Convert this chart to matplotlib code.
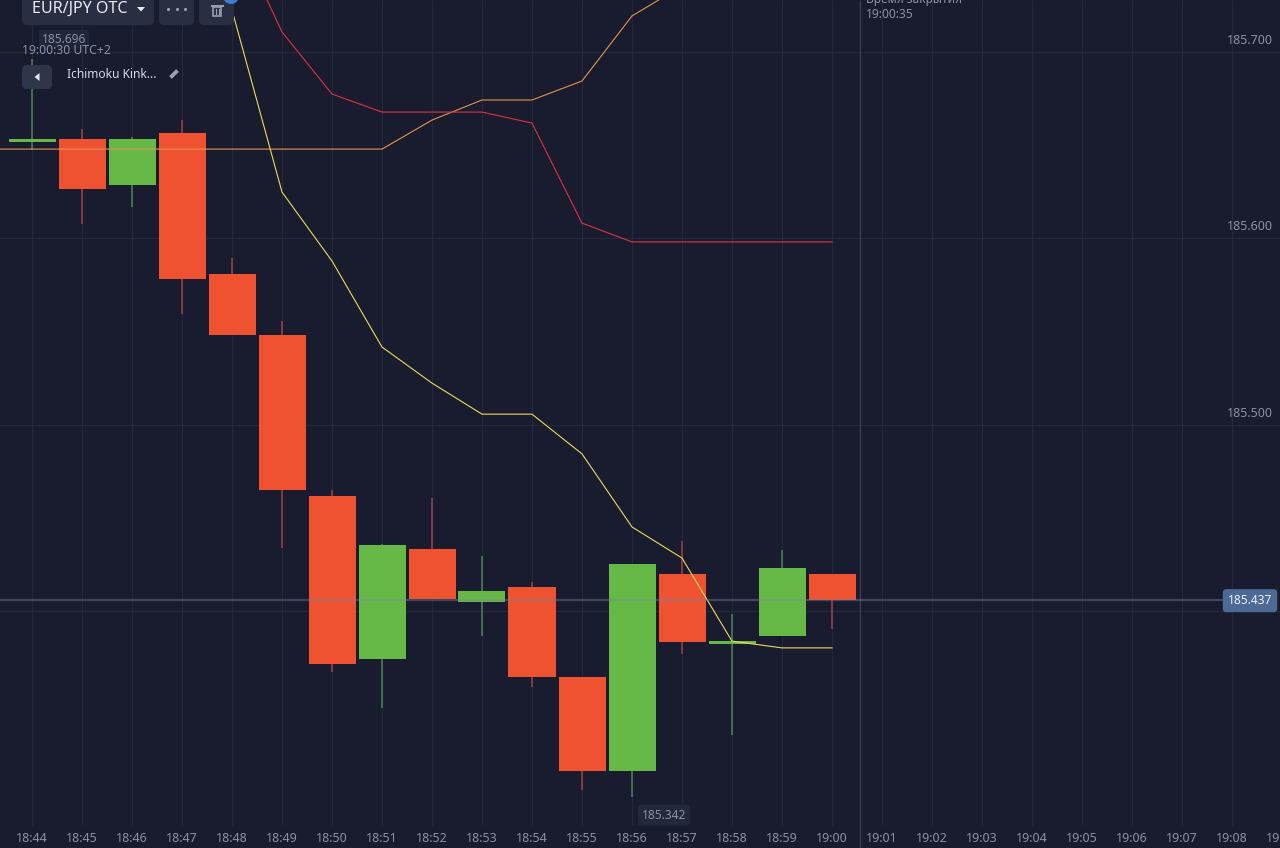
import numpy as np
import matplotlib
matplotlib.use('Agg')
import matplotlib.pyplot as plt
from matplotlib.patches import FancyBboxPatch, Polygon, Rectangle, Circle

plt.rcParams['font.family'] = ['Noto Sans', 'DejaVu Sans']

# minutes, 18:44 is index 0
time_labels = ['18:44', '18:45', '18:46', '18:47', '18:48', '18:49', '18:50', '18:51', '18:52',
               '18:53', '18:54', '18:55', '18:56', '18:57', '18:58', '18:59', '19:00', '19:01',
               '19:02', '19:03', '19:04', '19:05', '19:06', '19:07', '19:08', '19:09']

opens = [185.6516, 185.6532, 185.6284, 185.6564, 185.5807, 185.5481, 185.4744, 185.3850, 185.4554,
         185.4303, 185.4417, 185.3794, 185.3501, 185.4464, 185.3897, 185.3922, 185.4464]
closes = [185.6532, 185.6263, 185.6532, 185.5781, 185.5481, 185.4766, 185.3835, 185.4568, 185.4374,
          185.4402, 185.3794, 185.3501, 185.4500, 185.3903, 185.3906, 185.4485, 185.4370]
highs = [185.6960, 185.6586, 185.6543, 185.6634, 185.5893, 185.5556, 185.4766, 185.4572, 185.4737,
         185.4528, 185.4435, 185.3794, 185.4500, 185.4582, 185.3991, 185.4550, 185.4464]
lows = [185.6473, 185.6075, 185.6166, 185.5593, 185.5481, 185.4557, 185.3810, 185.3697, 185.4374,
        185.3922, 185.3763, 185.3442, 185.3420, 185.3866, 185.3613, 185.3922, 185.3944]

# ichimoku lines, starting minute index then values
yellow_start = 4
yellow_line = [185.7226, 185.6247, 185.5877, 185.5417, 185.5224, 185.5058, 185.5058,
               185.4896, 185.4633, 185.4521, 185.3906, 185.3885, 185.3885]
red_start = 4
red_line = [185.7683, 185.7108, 185.6774, 185.6677, 185.6677, 185.6677, 185.6618, 185.6080,
            185.5979, 185.5979, 185.5979, 185.5979, 185.5979]
orange_start = -1
orange_line = [185.6478, 185.6478, 185.6478, 185.6478, 185.6478, 185.6478, 185.6478, 185.6478,
               185.6478, 185.6634, 185.6742, 185.6742, 185.6844, 185.7194, 185.7355]

grid_prices = [185.7, 185.6, 185.5, 185.4]
price_labels = ['185.700', '185.600', '185.500']
current_price = 185.437
max_price = 185.696
min_price = 185.342
close_time = 16.58  # 19:00:35

# the printed tags and the printed axis do not share one straight scale, so calibrate through both
cal_prices = np.array([185.3261, 185.342, 185.4, 185.437, 185.5, 185.6, 185.7, 185.8356])
cal_pixels = np.array([848, 797, 611, 600, 425, 238, 52, -200])


def forward(v):
    return np.interp(v, cal_prices, -cal_pixels)


def inverse(y):
    return np.interp(y, -cal_pixels, cal_prices)


bg = '#191c2e'
red = '#ee5230'
green = '#67b947'
grey_text = '#8b90a4'

fig = plt.figure(figsize=(12.8, 8.48), dpi=100, facecolor=bg)
ax = fig.add_axes([0, 0, 1, 1], facecolor=bg)
ax.set_yscale('function', functions=(forward, inverse))
ax.set_xlim(-0.64, 24.96)
ax.set_ylim(inverse(-848.0), inverse(0.0))
ax.set_xticks([])
ax.set_yticks([])
ax.minorticks_off()
for s in ax.spines.values():
    s.set_visible(False)

# grid
xs = np.arange(len(time_labels))
ax.vlines(xs, 23 / 848, 1, transform=ax.get_xaxis_transform(), color='#24283b', lw=0.9, zorder=1)
ax.hlines(grid_prices, 0, 1, transform=ax.get_yaxis_transform(), color='#24283b', lw=0.9, zorder=1)
ax.vlines(close_time - 0.02, 0, 1, transform=ax.get_xaxis_transform(), color='#3a3f56', lw=1, zorder=1)

# candles
n = np.arange(len(opens))
op = np.array(opens)
cl = np.array(closes)
up = cl >= op
colors = [green if u else red for u in up]
wick_colors = ['#4f8458' if u else '#a53f48' for u in up]
ax.vlines(n, lows, highs, color=wick_colors, lw=1.1, zorder=2)
ax.bar(n, np.abs(cl - op), bottom=np.minimum(op, cl), width=0.94, color=colors, lw=0, zorder=3)

# ichimoku
ax.plot(np.arange(len(orange_line)) + orange_start, orange_line, color='#e0944c', lw=0.8, zorder=4)
ax.plot(np.arange(len(red_line)) + red_start, red_line, color='#d9343f', lw=0.8, zorder=4)
ax.plot(np.arange(len(yellow_line)) + yellow_start, yellow_line, color='#ecd95a', lw=0.8, zorder=4)

# current price line
ax.plot([-0.64, 23.8], [current_price, current_price], color='#7a809c', alpha=0.42, lw=1.6, zorder=5)

# labels tied to the scales
for label, p in zip(price_labels, grid_prices):
    ax.annotate(label, (1250 / 1280, p), xycoords=ax.get_yaxis_transform(), xytext=(0, 8.2),
                textcoords='offset points', ha='center', va='center', fontsize=9, color=grey_text)
for x, label in zip(xs, time_labels):
    ax.annotate(label, (x, 0), xycoords=ax.get_xaxis_transform(), xytext=(0, 7),
                textcoords='offset points', ha='center', va='center', fontsize=9,
                color=grey_text, annotation_clip=False)

ax.annotate(f'{current_price:.3f}', (1250 / 1280, current_price), xycoords=ax.get_yaxis_transform(),
            xytext=(0, -0.5), textcoords='offset points',
            ha='center', va='center', fontsize=8.6, color='#eef1f6', zorder=8,
            bbox=dict(boxstyle='round,pad=0.42,rounding_size=0.3', fc='#4d6a96', ec='none'))
ax.annotate(f'{min_price:.3f}', (12.64, min_price), xytext=(0, -13), textcoords='offset points',
            ha='center', va='center', fontsize=8.6, color=grey_text, zorder=8,
            bbox=dict(boxstyle='round,pad=0.32,rounding_size=0.3', fc='#24283b', ec='none'))
ax.annotate(f'{max_price:.3f}', (0.64, max_price), xytext=(0, 14.5), textcoords='offset points',
            ha='center', va='center', fontsize=8.6, color=grey_text, zorder=8,
            bbox=dict(boxstyle='round,pad=0.25,rounding_size=0.3', fc='#22263a', ec='none'))

# interface on top, in pixels
ui = fig.add_axes([0, 0, 1, 1], facecolor='none')
ui.set_xlim(0, 1280)
ui.set_ylim(848, 0)
ui.axis('off')


def box(x0, y0, x1, y1, fc='#2a2e42'):
    ui.add_patch(FancyBboxPatch((x0 + 5, y0 + 5), x1 - x0 - 10, y1 - y0 - 10,
                                boxstyle='round,pad=5,rounding_size=5', fc=fc, ec='none', zorder=3))


box(22, -12, 154, 25)
box(159, -12, 194, 25)
box(199, -12, 234, 25)
box(22, 65, 52, 89, fc='#30354a')
ui.add_patch(Circle((231, -4), 8, fc='#3d7dd0', ec='none', zorder=4))

ui.text(32, 9, 'EUR/JPY OTC', color='#e8eaf0', fontsize=11.6, fontweight='medium', va='center', zorder=5)
ui.add_patch(Polygon([[137, 7], [145, 7], [141, 11.5]], fc='#e8eaf0', ec='none', zorder=5))
ui.scatter([168, 176.5, 185], [9, 9, 9], s=5, c='#9a9fb2', lw=0, zorder=5)

# trash icon
ui.add_patch(Rectangle((213, 7), 8, 9, fc='none', ec='#9a9fb2', lw=1.2, zorder=5))
ui.plot([211.5, 222.5], [5.5, 5.5], color='#9a9fb2', lw=1.4, zorder=5)
ui.plot([215.5, 215.5], [9, 14], color='#9a9fb2', lw=0.8, zorder=5)
ui.plot([218.5, 218.5], [9, 14], color='#9a9fb2', lw=0.8, zorder=5)

ui.add_patch(Polygon([[39.5, 73], [39.5, 81], [34.5, 77]], fc='#e8eaf0', ec='none', zorder=5))
ui.text(67, 74, 'Ichimoku Kink...', color='#d5d8e2', fontsize=8.6, va='center', zorder=5)
ui.plot([170.5, 177.5], [77.5, 70.5], color='#9a9fb2', lw=2.8, solid_capstyle='butt', zorder=5)

ui.text(22, 50, '19:00:30 UTC+2', color=grey_text, fontsize=8.8, va='center', zorder=5)
ui.text(866, 0, 'Время закрытия', color=grey_text, fontsize=8.6, va='center', zorder=5)
ui.text(866, 15, '19:00:35', color=grey_text, fontsize=8.6, va='center', zorder=5)

fig.savefig('out.png', dpi=100, facecolor=bg)
